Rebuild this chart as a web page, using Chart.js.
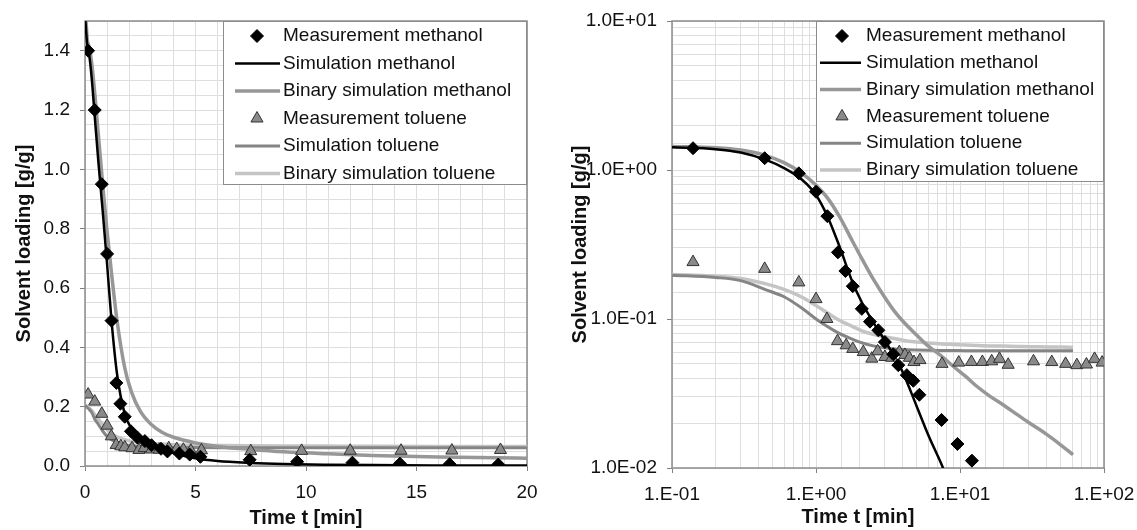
<!DOCTYPE html>
<html>
<head>
<meta charset="utf-8">
<script src="https://cdn.jsdelivr.net/npm/chart.js@4.4.0/dist/chart.umd.min.js"></script>
<style>
  html, body { margin: 0; padding: 0; background: #fff; }
  #wrap { position: relative; width: 1137px; height: 530px; }
  .pane { position: absolute; top: 0; }
</style>
</head>
<body>
<div id="wrap">
  <div class="pane" style="left:0"><canvas id="linChart" width="560" height="530"></canvas></div>
  <div class="pane" style="left:560px"><canvas id="logChart" width="577" height="530"></canvas></div>
</div>
<script>
// measured points (time in min, loading in g/g)
var measMethT = [0.14, 0.44, 0.76, 1.0, 1.2, 1.42, 1.6, 1.8, 2.08, 2.37, 2.71, 3.01, 3.44, 3.73, 4.27, 4.74, 5.22, 7.45, 9.6, 12.1, 14.25, 16.5, 18.7];
var measMethV = [1.40, 1.20, 0.95, 0.715, 0.49, 0.28, 0.21, 0.166, 0.117, 0.096, 0.084, 0.070, 0.058, 0.049, 0.042, 0.0385, 0.031, 0.021, 0.0145, 0.0112, 0.008, 0.006, 0.005];

var measTolT = [0.14, 0.44, 0.76, 1.0, 1.19, 1.41, 1.62, 1.8, 2.13, 2.44, 2.68, 3.01, 3.36, 3.79, 4.15, 4.45, 4.79, 5.27, 7.5, 9.8, 12.0, 14.3, 16.6, 18.8, 21.6, 32.4, 43.4, 54.1, 64.8, 75.5, 86, 97];
var measTolV = [0.241, 0.217, 0.176, 0.136, 0.100, 0.071, 0.0666, 0.063, 0.060, 0.0542, 0.0607, 0.0556, 0.0549, 0.060, 0.0574, 0.0549, 0.0514, 0.053, 0.050, 0.051, 0.0515, 0.0515, 0.052, 0.054, 0.0493, 0.052, 0.0514, 0.050, 0.049, 0.0495, 0.054, 0.051];

// simulated curves
var simT        = [0, 0.1, 0.2, 0.3, 0.45, 0.6, 0.8, 1.0, 1.2, 1.45, 1.8, 2.1, 2.5, 3, 3.5, 4, 5, 6, 7.5, 9, 11, 13, 16, 20, 25, 30, 40, 50, 61];
var simMethanol = [1.52, 1.42, 1.38, 1.31, 1.17, 1.03, 0.86, 0.68, 0.49, 0.31, 0.175, 0.127, 0.095, 0.072, 0.056, 0.044, 0.026, 0.0168, 0.0104, 0.0068, 0.0044, 0.003, 0.002, 0.0013, 0.0008, 0.0005, 0.0003, 0.0002, 0.0001];
var binMethanol = [1.56, 1.44, 1.41, 1.36, 1.25, 1.12, 0.95, 0.79, 0.65, 0.49, 0.33, 0.25, 0.185, 0.14, 0.113, 0.097, 0.078, 0.066, 0.056, 0.048, 0.041, 0.0355, 0.0305, 0.0265, 0.0228, 0.0202, 0.0168, 0.0143, 0.0123];
var simToluene  = [0.205, 0.197, 0.19, 0.181, 0.157, 0.141, 0.118, 0.100, 0.089, 0.080, 0.073, 0.069, 0.066, 0.064, 0.063, 0.0625, 0.062, 0.0617, 0.0615, 0.0614, 0.0613, 0.0612, 0.0612, 0.0612, 0.0612, 0.0612, 0.0612, 0.0612, 0.0612];
var binToluene  = [0.207, 0.199, 0.194, 0.187, 0.172, 0.158, 0.14, 0.123, 0.11, 0.098, 0.089, 0.083, 0.079, 0.076, 0.074, 0.072, 0.070, 0.069, 0.068, 0.0675, 0.067, 0.0665, 0.066, 0.0658, 0.0655, 0.0652, 0.065, 0.0648, 0.0645];

// tick labels
var linXLabels = [0, 5, 10, 15, 20];
var linYLabels = ['0.0', '0.2', '0.4', '0.6', '0.8', '1.0', '1.2', '1.4'];
var logXLabels = ['1.E-01', '1.E+00', '1.E+01', '1.E+02'];
var logYLabels = ['1.0E-02', '1.0E-01', '1.0E+00', '1.0E+01'];

var FONT = "'Liberation Sans', Arial, sans-serif";
Chart.defaults.font.family = FONT;
Chart.defaults.color = '#111';

function pairs(xs, ys, minX) {
    var out = [];
    for (var i = 0; i < xs.length; i++) {
        if (xs[i] >= minX) out.push({ x: xs[i], y: ys[i] });
    }
    return out;
}

function buildDatasets(minT) {
    return [
        { label: 'Measurement methanol', data: pairs(measMethT, measMethV, minT), showLine: false,
          pointStyle: 'rectRot', pointRadius: 6.5, backgroundColor: '#000', borderColor: '#000', borderWidth: 1, order: 0 },
        { label: 'Simulation methanol', data: pairs(simT, simMethanol, minT), showLine: true, pointRadius: 0,
          borderColor: '#000', borderWidth: 2.5, cubicInterpolationMode: 'monotone', order: 2 },
        { label: 'Binary simulation methanol', data: pairs(simT, binMethanol, minT), showLine: true, pointRadius: 0,
          borderColor: '#979797', borderWidth: 3.5, cubicInterpolationMode: 'monotone', order: 3 },
        { label: 'Measurement toluene', data: pairs(measTolT, measTolV, minT), showLine: false,
          pointStyle: 'triangle', pointRadius: 7, backgroundColor: '#8a8a8a', borderColor: '#333', borderWidth: 1, order: 1 },
        { label: 'Simulation toluene', data: pairs(simT, simToluene, minT), showLine: true, pointRadius: 0,
          borderColor: '#858585', borderWidth: 3, cubicInterpolationMode: 'monotone', order: 4 },
        { label: 'Binary simulation toluene', data: pairs(simT, binToluene, minT), showLine: true, pointRadius: 0,
          borderColor: '#c4c4c4', borderWidth: 3.5, cubicInterpolationMode: 'monotone', order: 5 }
    ];
}

// frame round the plot area
var plotFrame = {
    id: 'plotFrame',
    beforeDatasetsDraw: function (chart) {
        var a = chart.chartArea, ctx = chart.ctx;
        ctx.save();
        ctx.strokeStyle = '#8c8c8c';
        ctx.lineWidth = 1.5;
        ctx.strokeRect(a.left, a.top, a.right - a.left, a.bottom - a.top);
        ctx.restore();
    }
};

// legend in a white box at the top right of the plot
var boxLegend = {
    id: 'boxLegend',
    afterDraw: function (chart, args, o) {
        var ctx = chart.ctx, a = chart.chartArea;
        var x0 = a.right - o.width, y0 = a.top;
        ctx.save();
        ctx.fillStyle = '#fff';
        ctx.fillRect(x0, y0, o.width, o.height);
        ctx.strokeStyle = '#8c8c8c';
        ctx.lineWidth = 1;
        ctx.strokeRect(x0 + 0.5, y0 + 0.5, o.width - 1, o.height - 1);
        ctx.font = '19px ' + FONT;
        ctx.textBaseline = 'middle';
        chart.data.datasets.forEach(function (ds, i) {
            var y = y0 + o.firstRow + i * o.rowHeight;
            if (ds.showLine) {
                ctx.strokeStyle = ds.borderColor;
                ctx.lineWidth = ds.borderWidth;
                ctx.beginPath();
                ctx.moveTo(x0 + o.lineFrom, y);
                ctx.lineTo(x0 + o.lineTo, y);
                ctx.stroke();
            } else {
                ctx.fillStyle = ds.backgroundColor;
                ctx.strokeStyle = ds.borderColor;
                ctx.lineWidth = ds.borderWidth;
                Chart.helpers.drawPoint(ctx, { pointStyle: ds.pointStyle, radius: ds.pointRadius, rotation: 0, borderWidth: ds.borderWidth }, x0 + o.markX, y);
            }
            ctx.fillStyle = '#111';
            ctx.fillText(ds.label, x0 + o.textX, y);
        });
        ctx.restore();
    }
};

// x title of the log chart sits left of centre in the original
var freeTitle = {
    id: 'freeTitle',
    afterDraw: function (chart, args, o) {
        if (!o.text) return;
        var ctx = chart.ctx;
        ctx.save();
        ctx.font = 'bold 20px ' + FONT;
        ctx.fillStyle = '#111';
        ctx.textAlign = 'center';
        ctx.textBaseline = 'middle';
        ctx.fillText(o.text, o.x, o.y);
        ctx.restore();
    }
};

function onTick(v, step) {
    return Math.abs(v / step - Math.round(v / step)) < 1e-6;
}
function decade(v) {
    var e = Math.log10(v);
    return Math.abs(e - Math.round(e)) < 1e-6 ? Math.round(e) : null;
}
function logLabel(list, firstExp) {
    return function (v) {
        var e = decade(v);
        if (e === null) return '';
        return list[e - firstExp] || '';
    };
}
// let the tick labels hang over the layout padding
function fixHeight(h) {
    return function (s) { s.height = h; s.paddingLeft = 0; s.paddingRight = 0; };
}
function fixWidth(w) {
    return function (s) { s.width = w; s.paddingTop = 0; s.paddingBottom = 0; };
}

var tickFont = { size: 19 };
var titleFont = { size: 20, weight: 'bold' };
var gridColor = '#dedede';

// linear chart
var linCtx = document.getElementById('linChart').getContext('2d');
var linChart = new Chart(linCtx, {
    type: 'scatter',
    data: { datasets: buildDatasets(0) },
    options: {
        responsive: false,
        devicePixelRatio: 1,
        animation: false,
        events: [],
        layout: { padding: { left: 0, right: 33, top: 21, bottom: 0 } },
        plugins: {
            legend: { display: false },
            tooltip: { enabled: false },
            boxLegend: { width: 304, height: 164, firstRow: 15, rowHeight: 27.5, lineFrom: 12, lineTo: 57, markX: 34, textX: 60 }
        },
        scales: {
            x: {
                type: 'linear', min: 0, max: 20,
                border: { display: false },
                grid: { color: gridColor, tickLength: 5,
                        tickColor: function (c) { return onTick(c.tick.value, 5) ? '#808080' : 'rgba(0,0,0,0)'; } },
                ticks: { stepSize: 1, autoSkip: false, maxRotation: 0, padding: 10, font: tickFont,
                         callback: function (v) { return linXLabels.indexOf(v) >= 0 ? String(v) : ''; } },
                title: { display: true, text: 'Time t [min]', font: titleFont, padding: { top: 0, bottom: 0 } },
                afterFit: fixHeight(64)
            },
            y: {
                type: 'linear', min: 0, max: 1.5,
                border: { display: false },
                grid: { color: gridColor, tickLength: 5,
                        tickColor: function (c) { return onTick(c.tick.value, 0.2) ? '#808080' : 'rgba(0,0,0,0)'; } },
                ticks: { stepSize: 0.05, autoSkip: false, padding: 10, font: tickFont,
                         callback: function (v) { return onTick(v, 0.2) ? linYLabels[Math.round(v / 0.2)] : ''; } },
                title: { display: true, text: 'Solvent loading [g/g]', font: titleFont, padding: { top: 12, bottom: 0 } },
                afterFit: fixWidth(85)
            }
        }
    },
    plugins: [plotFrame, boxLegend]
});

// log-log chart
var logCtx = document.getElementById('logChart').getContext('2d');
var logChart = new Chart(logCtx, {
    type: 'scatter',
    data: { datasets: buildDatasets(0.1) },
    options: {
        responsive: false,
        devicePixelRatio: 1,
        animation: false,
        events: [],
        layout: { padding: { left: 0, right: 33, top: 21, bottom: 0 } },
        plugins: {
            legend: { display: false },
            tooltip: { enabled: false },
            boxLegend: { width: 288, height: 161, firstRow: 15, rowHeight: 26.8, lineFrom: 4, lineTo: 45, markX: 26, textX: 50 },
            freeTitle: { text: 'Time t [min]', x: 298, y: 517 }
        },
        scales: {
            x: {
                type: 'logarithmic', min: 0.1, max: 100,
                border: { display: false },
                grid: { color: gridColor, tickLength: 5,
                        tickColor: function (c) { return decade(c.tick.value) !== null ? '#808080' : 'rgba(0,0,0,0)'; } },
                ticks: { autoSkip: false, maxRotation: 0, padding: 10, font: tickFont, callback: logLabel(logXLabels, -1) },
                title: { display: false },
                afterFit: fixHeight(62)
            },
            y: {
                type: 'logarithmic', min: 0.01, max: 10,
                border: { display: false },
                grid: { color: gridColor, tickLength: 5,
                        tickColor: function (c) { return decade(c.tick.value) !== null ? '#808080' : 'rgba(0,0,0,0)'; } },
                ticks: { autoSkip: false, padding: 10, font: tickFont, callback: logLabel(logYLabels, -2) },
                title: { display: true, text: 'Solvent loading [g/g]', font: titleFont, padding: { top: 8, bottom: 0 } },
                afterFit: fixWidth(112)
            }
        }
    },
    plugins: [plotFrame, boxLegend, freeTitle]
});
</script>
</body>
</html>
